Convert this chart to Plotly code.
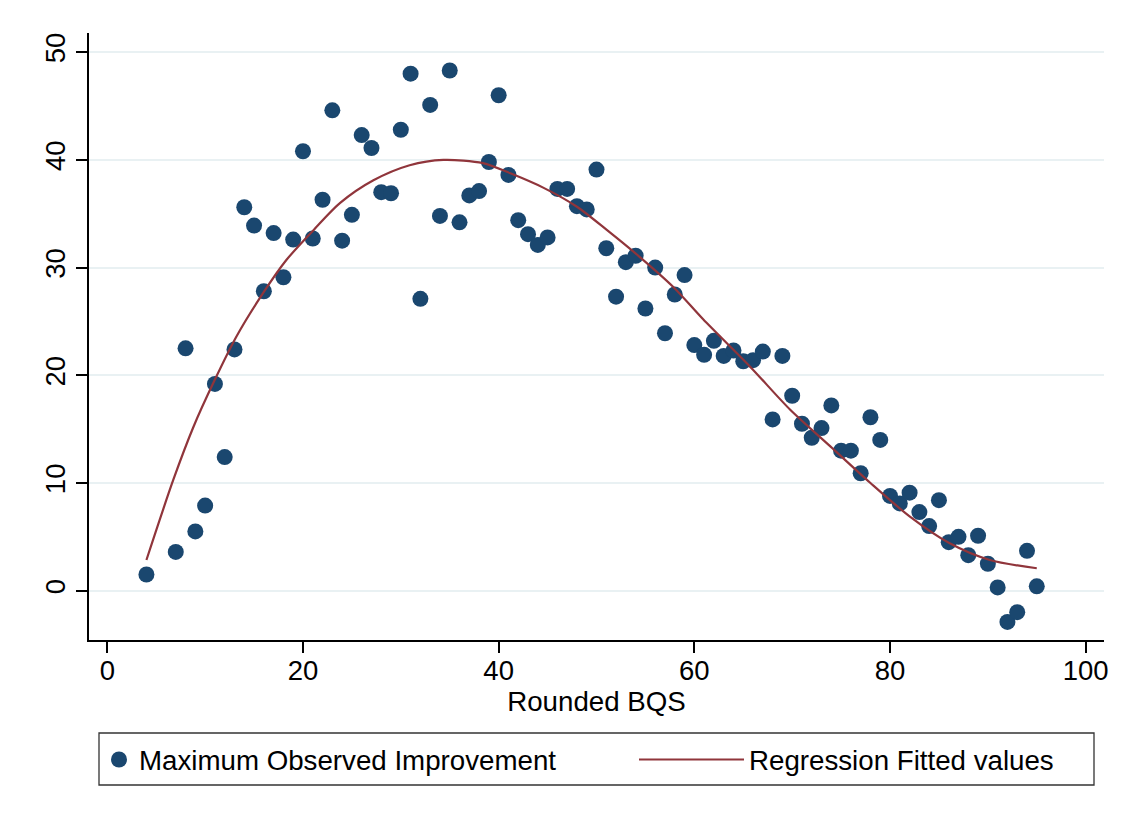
import plotly.graph_objects as go

# ---- data ----
bqs = [4, 7, 8, 9, 10, 11, 12, 13, 14, 15, 16, 17, 18, 19, 20, 21, 22, 23, 24, 25,
       26, 27, 28, 29, 30, 31, 32, 33, 34, 35, 36, 37, 38, 39, 40, 41, 42, 43, 44, 45,
       46, 47, 48, 49, 50, 51, 52, 53, 54, 55, 56, 57, 58, 59, 60, 61, 62, 63, 64, 65,
       66, 67, 68, 69, 70, 71, 72, 73, 74, 75, 76, 77, 78, 79, 80, 81, 82, 83, 84, 85,
       86, 87, 88, 89, 90, 91, 92, 93, 94, 95]
max_improvement = [1.5, 3.6, 22.5, 5.5, 7.9, 19.2, 12.4, 22.4, 35.6, 33.9,
                   27.8, 33.2, 29.1, 32.6, 40.8, 32.7, 36.3, 44.6, 32.5, 34.9,
                   42.3, 41.1, 37.0, 36.9, 42.8, 48.0, 27.1, 45.1, 34.8, 48.3,
                   34.2, 36.7, 37.1, 39.8, 46.0, 38.6, 34.4, 33.1, 32.1, 32.8,
                   37.3, 37.3, 35.7, 35.4, 39.1, 31.8, 27.3, 30.5, 31.1, 26.2,
                   30.0, 23.9, 27.5, 29.3, 22.8, 21.9, 23.2, 21.8, 22.3, 21.3,
                   21.4, 22.2, 15.9, 21.8, 18.1, 15.5, 14.2, 15.1, 17.2, 13.0,
                   13.0, 10.9, 16.1, 14.0, 8.8, 8.1, 9.1, 7.3, 6.0, 8.4,
                   4.5, 5.0, 3.3, 5.1, 2.5, 0.3, -2.9, -2.0, 3.7, 0.4]

# fitted curve
fit_x = [4, 6.75, 8.8, 11, 13.2, 15.9, 18.3, 21.1, 23.8, 27.2, 30.9, 34.35, 38.4,
         41.2, 44.6, 48, 51.05, 54.4, 57.85, 60.9, 65.7, 69.8, 73.9, 78, 82, 86.1,
         90.2, 95]
fit_y = [2.85, 10.3, 15.2, 19.6, 23.6, 27.6, 30.7, 33.5, 36.0, 38.1, 39.5, 40.0, 39.7,
         38.75, 37.4, 35.65, 33.5, 31.0, 28.2, 25.2, 20.8, 16.8, 13.4, 10.0, 6.9, 4.4,
         2.85, 2.08]

x_ticks = [0, 20, 40, 60, 80, 100]
y_ticks = [0, 10, 20, 30, 40, 50]

FONT = "Liberation Sans, Arial, Helvetica, sans-serif"
NAVY = "#1a476f"
CRAN = "#90353b"

OFF = 8  # page body margin in the browser
W, H = 1127 - OFF, 820 - OFF
# plot area in page pixels
L, R, T, B = 89 - OFF, 1104 - OFF, 33 - OFF, 640 - OFF
pw, ph = R - L, B - T


def px(xp):
    return (xp - OFF - L) / pw


def py(yp):
    return (B - (yp - OFF)) / ph


fig = go.Figure()
fig.add_trace(go.Scatter(
    x=bqs, y=max_improvement, mode="markers", name="Maximum Observed Improvement",
    marker=dict(color=NAVY, size=16, line=dict(width=0)), legend="legend"))
fig.add_trace(go.Scatter(
    x=fit_x, y=fit_y, mode="lines", name="Regression Fitted values",
    line=dict(color=CRAN, width=2.2, shape="spline", smoothing=0.8), legend="legend2"))

fig.update_layout(
    width=W, height=H,
    margin=dict(l=L, r=W - R, t=T, b=H - B, autoexpand=False),
    paper_bgcolor="white", plot_bgcolor="white",
    font=dict(family=FONT, size=27.7, color="black"),
    xaxis=dict(range=[-1.87, 101.87], tickvals=x_ticks, ticks="outside", ticklen=11,
               tickwidth=1.5, tickcolor="black", showline=True, linecolor="black",
               linewidth=1.5, showgrid=False, zeroline=False,
               tickfont=dict(size=27.5), ticklabelstandoff=-6,
               title=dict(text="Rounded BQS", font=dict(size=27.7), standoff=1)),
    yaxis=dict(range=[-4.58, 51.78], tickvals=y_ticks, ticks="outside", ticklen=11,
               tickwidth=1.5, tickcolor="black", showline=True, linecolor="black",
               linewidth=1.5, showgrid=True, gridcolor="#e9f1f3", gridwidth=2,
               zeroline=False, tickangle=-90, tickfont=dict(size=27.5)),
    legend=dict(x=px(99), y=py(760), xanchor="left", yanchor="middle",
                orientation="h", bgcolor="rgba(0,0,0,0)", borderwidth=0,
                font=dict(size=27.7, color="black"), itemwidth=30),
    legend2=dict(x=px(634), y=py(760), xanchor="left", yanchor="middle",
                 orientation="h", bgcolor="rgba(0,0,0,0)", borderwidth=0,
                 font=dict(size=27.7, color="black"), itemwidth=105),
    shapes=[
        dict(type="rect", xref="paper", yref="paper", x0=px(99), x1=px(1094),
             y0=py(785), y1=py(733), line=dict(color="#333333", width=1.3),
             fillcolor="rgba(0,0,0,0)", layer="below"),
        dict(type="line", xref="paper", yref="paper", x0=px(OFF), x1=px(1127),
             y0=py(5), y1=py(5), line=dict(color="#eeeeee", width=1.5)),
    ],
    showlegend=True,
)

fig.write_html("out.html")
